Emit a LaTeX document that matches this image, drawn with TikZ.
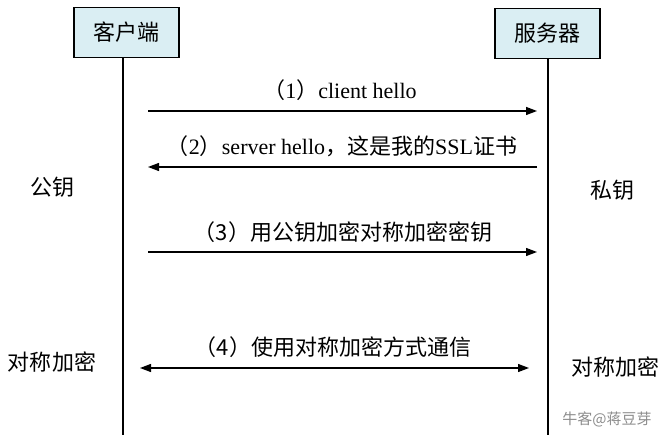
\documentclass[tikz,border=0pt]{standalone}
\usepackage{fontspec}
\setmainfont{Liberation Serif}
\newfontfamily\cjk{Noto Sans CJK SC}
\usetikzlibrary{arrows.meta}
\definecolor{boxfill}{HTML}{DAEEF3}
\definecolor{wmgray}{HTML}{8C8C8C}
\tikzset{
  actor/.style={draw=black, line width=1.3pt, fill=boxfill, minimum width=105pt, minimum height=50pt, inner sep=0pt, font=\cjk\fontsize{22}{26}\selectfont},
  lifeline/.style={line width=1.3pt, black},
  msg/.style={line width=1.3pt, -{Triangle[length=11pt,width=8pt]}},
  bimsg/.style={line width=1.3pt, {Triangle[length=11pt,width=8pt]}-{Triangle[length=11pt,width=8pt]}},
  lbl/.style={inner sep=0pt, font=\fontsize{22}{26}\selectfont},
  side/.style={inner sep=0pt, font=\cjk\fontsize{22}{26}\selectfont},
}
\begin{document}
\begin{tikzpicture}[x=1pt,y=-1pt]
\useasboundingbox (0,0) rectangle (666,435);
% actors
\node[actor] (client) at (126.5,32.5) {客户端};
\node[actor] (server) at (547.5,33.5) {服务器};
% lifelines
\coordinate (ctop) at (123,57.5);
\coordinate (cbot) at (123,435);
\coordinate (stop) at (548,59);
\coordinate (sbot) at (548,435);
\draw[lifeline] (ctop) -- (cbot);
\draw[lifeline] (stop) -- (sbot);
% message end points
\coordinate (m1a) at (148,111);
\coordinate (m1b) at (537,111);
\coordinate (m2a) at (537,167);
\coordinate (m2b) at (148,167);
\coordinate (m3a) at (148,252);
\coordinate (m3b) at (537,252);
\coordinate (m4a) at (140,368);
\coordinate (m4b) at (529,368);
\draw[msg] (m1a) -- (m1b);
\draw[msg] (m2a) -- (m2b);
\draw[msg] (m3a) -- (m3b);
\draw[bimsg] (m4a) -- (m4b);
% message labels
\node[lbl] (l1) at (340,90) {{\cjk （}1{\cjk ）}client hello};
\node[lbl] (l2) at (342,146) {{\cjk （}2{\cjk ）}server hello{\cjk ，这是我的}SSL{\cjk 证书}};
\node[lbl] (l3) at (343,232) {\cjk （3）用公钥加密对称加密密钥};
\node[lbl] (l4) at (333,347) {\cjk （4）使用对称加密方式通信};
% side labels
\node[side] (pub) at (52,187) {公钥};
\node[side] (priv) at (612,190) {私钥};
\node[side] (symL) at (52,362) {对称加密};
\node[side] (symR) at (615,367) {对称加密};
% watermark
\node[inner sep=0pt, text=wmgray, font=\cjk\fontsize{15}{18}\selectfont] (wm) at (607,419) {牛客@蒋豆芽};
\end{tikzpicture}
\end{document}
